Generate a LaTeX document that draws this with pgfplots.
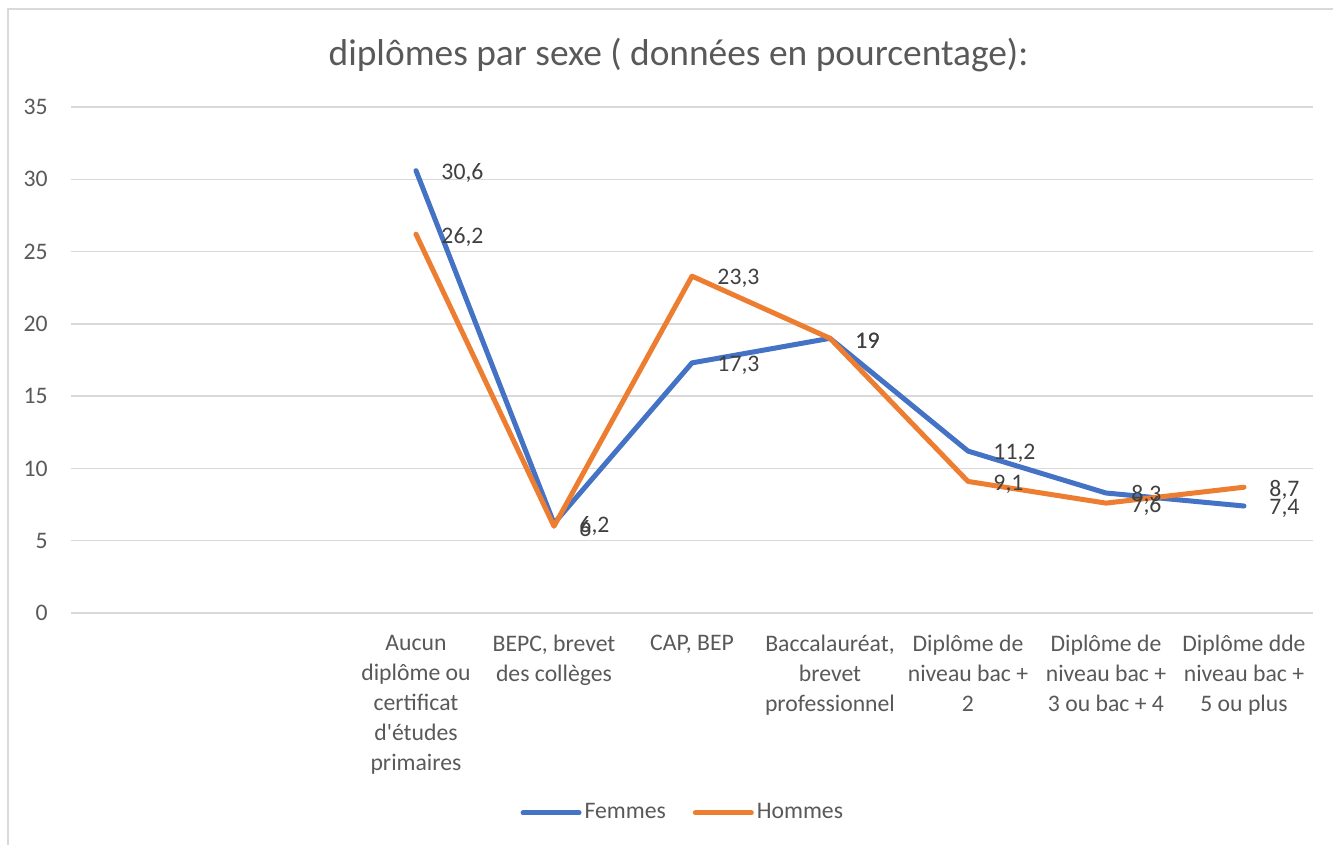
\documentclass[border=0pt]{standalone}
\usepackage{fontspec}
\setmainfont{Carlito}
\usepackage{pgfplots}
\pgfplotsset{compat=1.18}
\definecolor{fem}{HTML}{4472C4}
\definecolor{hom}{HTML}{ED7D31}
\definecolor{gridc}{HTML}{D9D9D9}
\definecolor{txt}{HTML}{595959}
\definecolor{lbl}{HTML}{404040}

\begin{document}
\begin{tikzpicture}
\begin{axis}[
    scale only axis, width=621pt, height=253pt,
    xmin=-0.5, xmax=8.5, ymin=0, ymax=35,
    ytick={0,5,...,35},
    xtick={2,...,8},
    xticklabels={{Aucun\\diplôme ou\\certificat\\d\textquotesingle études\\primaires},
                 {BEPC, brevet\\des collèges},
                 {CAP, BEP},
                 {Baccalauréat,\\brevet\\professionnel},
                 {Diplôme de\\niveau bac +\\2},
                 {Diplôme de\\niveau bac +\\3 ou bac + 4},
                 {Diplôme dde\\niveau bac +\\5 ou plus}},
    axis line style={draw=none},
    major tick length=0pt,
    ymajorgrids, grid style={gridc, line width=0.7pt},
    /pgf/number format/assume math mode=true,
    yticklabel style={anchor=east, inner sep=0pt, xshift=-11.5pt,
        font=\fontsize{11.85}{15}\selectfont, text=txt},
    xticklabel style={anchor=north, inner sep=0pt, yshift=-11pt, align=center,
        font=\fontsize{11.85}{15}\selectfont, text=txt},
    clip=false,
    nodes near coords={\pgfmathprintnumber[use comma, assume math mode=true]{\pgfplotspointmeta}},
    nodes near coords align=horizontal,
    every node near coord/.append style={inner sep=0pt, xshift=11.5pt, yshift=-1.2pt,
        font=\fontsize{11.85}{15}\selectfont, text=lbl},
    legend image code/.code={\draw[#1] (0pt,0pt) -- (28pt,0pt);},
    legend style={at={(0.493,-0.395)}, anchor=center, draw=none,
        font=\fontsize{11.85}{15}\selectfont, text=txt,
        /tikz/every even column/.append style={column sep=12pt},
        nodes={inner sep=1.5pt}},
    legend columns=-1,
]
\addplot[fem, line width=2.5pt, line cap=round, line join=round] coordinates {
    (2,30.6)(3,6.2)(4,17.3)(5,19)(6,11.2)(7,8.3)(8,7.4)
};
\addlegendentry{Femmes}
\addplot[hom, line width=2.5pt, line cap=round, line join=round] coordinates {
    (2,26.2)(3,6)(4,23.3)(5,19)(6,9.1)(7,7.6)(8,8.7)
};
\addlegendentry{Hommes}
\end{axis}
\node[anchor=base, text=txt, font=\fontsize{18.7}{22}\selectfont] at (303.75pt,273.5pt)
    {diplômes par sexe ( données en pourcentage):};
\draw[gridc, line width=0.6pt] (-31.5pt,-116pt) -- (-31.5pt,302pt) -- (631pt,302pt);
\pgfresetboundingbox
\path[use as bounding box] (-35.5pt,-116pt) rectangle (631pt,306.5pt);
\end{tikzpicture}
\end{document}
